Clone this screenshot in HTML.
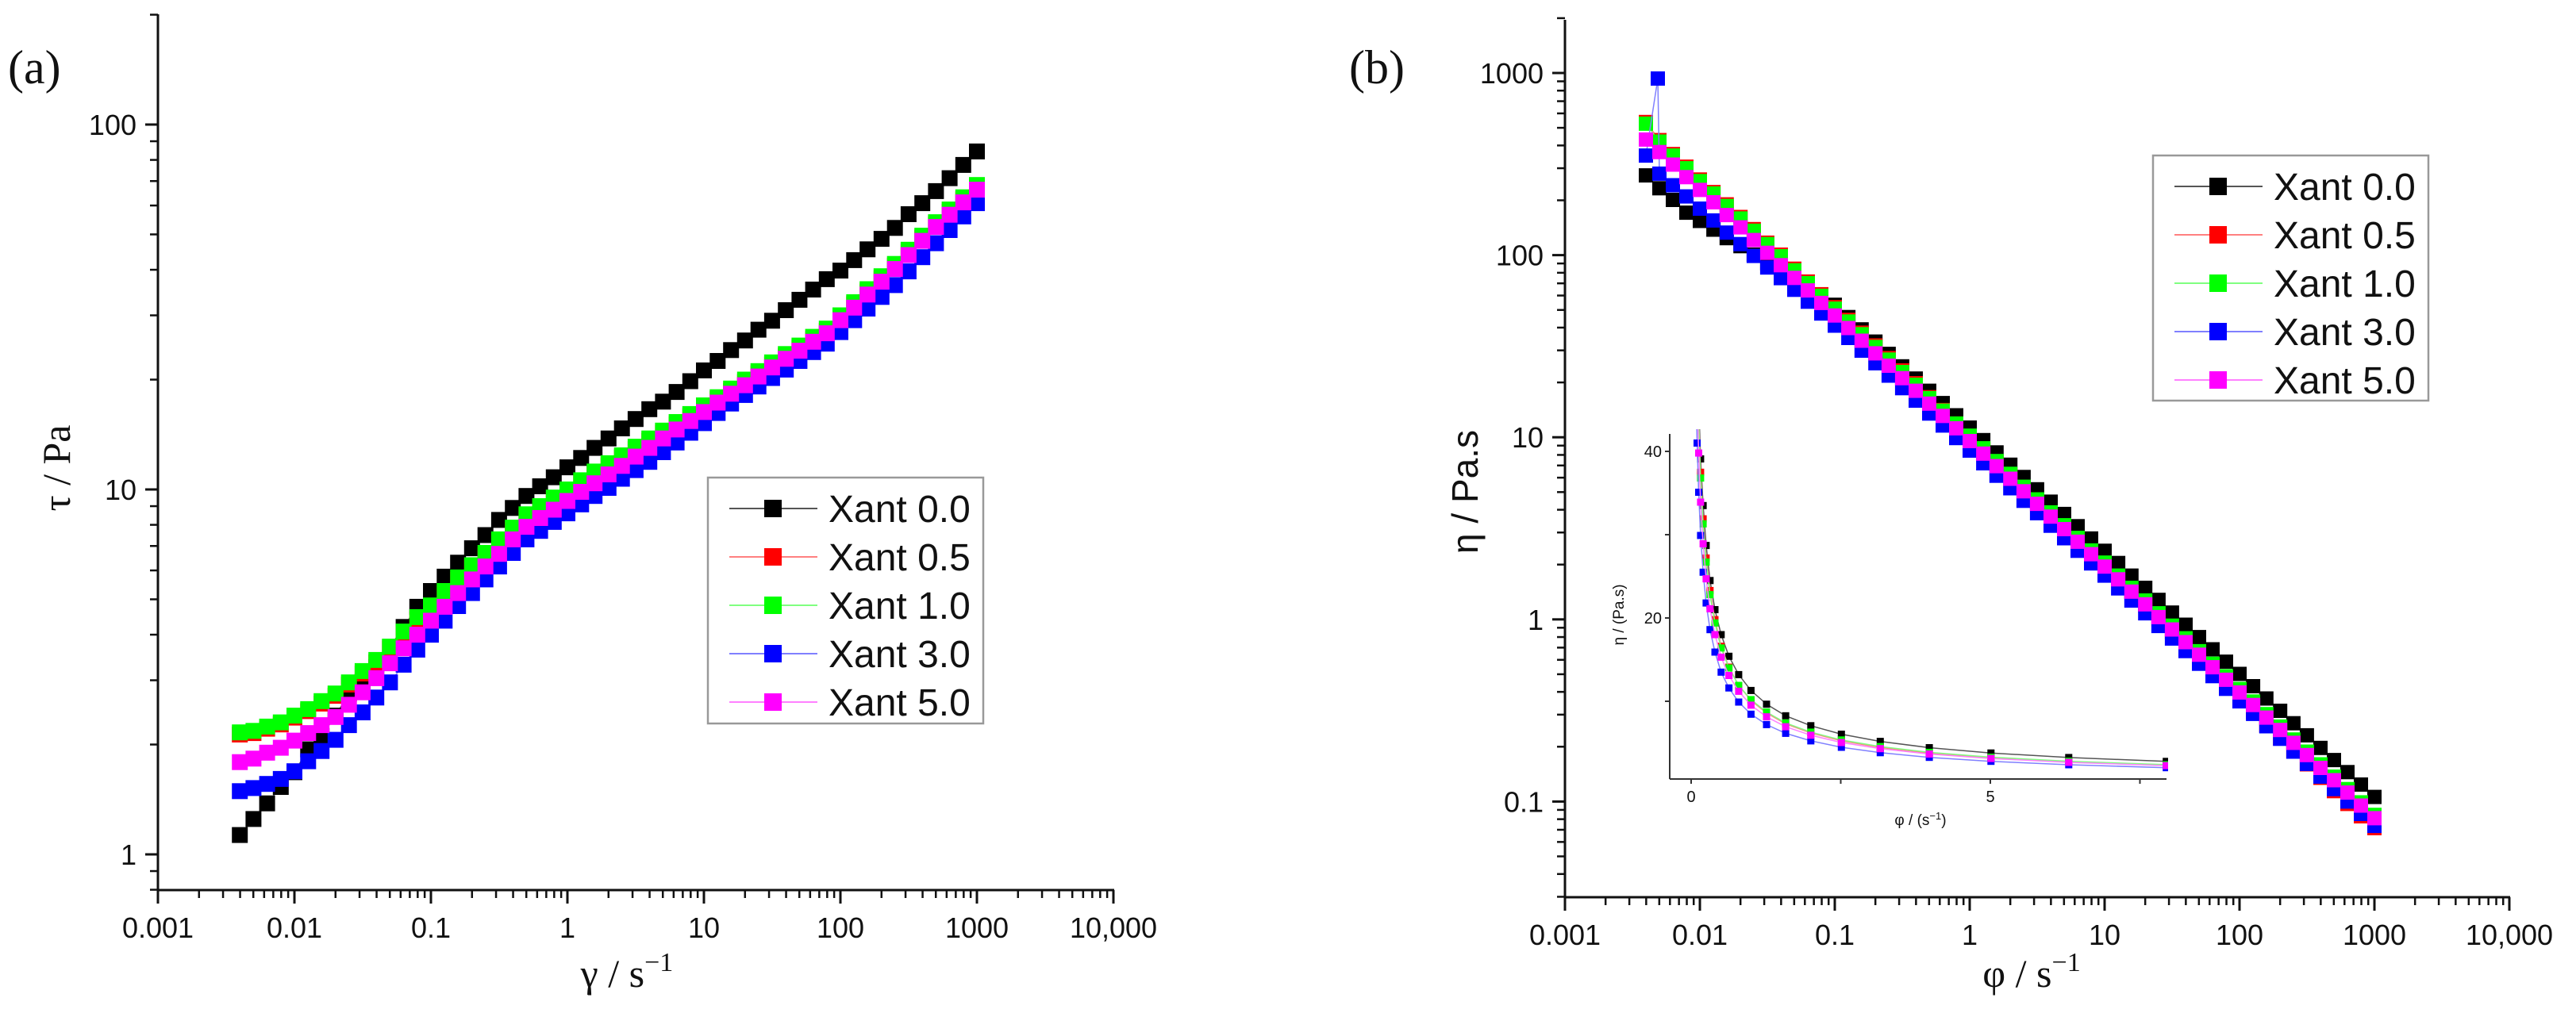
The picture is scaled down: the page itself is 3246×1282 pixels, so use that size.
<!DOCTYPE html>
<html><head><meta charset="utf-8"><style>
html,body{margin:0;padding:0;background:#fff}
svg{display:block}
.t{font-family:"Liberation Sans",Arial,sans-serif;fill:#111}
.s{font-family:"Liberation Serif","Times New Roman",serif;fill:#111}
</style></head><body>
<svg id="fig" width="3246" height="1282" viewBox="0 0 3246 1282" xmlns="http://www.w3.org/2000/svg">
<rect width="3246" height="1282" fill="#fff"/>
<g id="pa"></g>
<g id="pb"></g>
</svg>
<script>
const xGrid=[0.00398,0.00501,0.00631,0.00794,0.01,0.0126,0.0158,0.02,0.0251,0.0316,0.0398,0.0501,0.0631,0.0794,0.1,0.126,0.158,0.2,0.251,0.316,0.398,0.501,0.631,0.794,1,1.26,1.58,2,2.51,3.16,3.98,5.01,6.31,7.94,10,12.6,15.8,20,25.1,31.6,39.8,50.1,63.1,79.4,100,126,158,200,251,316,398,501,631,794,1000];
const seriesNames=["Xant 0.0","Xant 0.5","Xant 1.0","Xant 3.0","Xant 5.0"];
const xTickLabels=["0.001","0.01","0.1","1","10","100","1000","10,000"];
const aYTickLabels=["1","10","100"];
const bYTickLabels=["0.1","1","10","100","1000"];
const insetXTickLabels=["0","5"];
const insetYTickLabels=["20","40"];
// panel (a) shear stress
const aBlack=[1.13,1.25,1.38,1.53,1.68,1.94,2.11,2.4,2.76,2.98,3.26,3.7,4.2,4.77,5.27,5.77,6.3,6.9,7.5,8.25,8.9,9.6,10.2,10.8,11.5,12.2,13.0,13.8,14.7,15.6,16.6,17.4,18.5,19.8,21.2,22.5,24.1,25.6,27.4,29.0,31.0,33.1,35.3,37.7,39.8,42.5,45.5,48.6,52.1,56.8,60.9,65.7,71.3,77.5,84.4];
const aRed=[2.13,2.15,2.21,2.27,2.37,2.47,2.59,2.72,2.92,3.13,3.36,3.66,4.02,4.41,4.75,5.2,5.66,6.12,6.61,7.2,7.76,8.44,8.88,9.38,9.87,10.45,11.05,11.65,12.25,12.9,13.6,14.3,15.1,15.9,16.8,17.7,18.65,19.7,20.8,22.0,23.2,24.5,25.85,27.2,29.6,32.2,34.9,37.9,41.0,44.8,49.0,53.3,57.7,62.4,67.4];
const aGreen=[2.16,2.18,2.24,2.30,2.40,2.50,2.63,2.76,2.96,3.18,3.41,3.71,4.08,4.47,4.81,5.27,5.74,6.2,6.7,7.3,7.86,8.55,9.0,9.5,10.0,10.6,11.2,11.8,12.4,13.1,13.8,14.5,15.3,16.1,17.0,17.9,18.9,20.0,21.1,22.3,23.5,24.8,26.2,27.6,30.0,32.6,35.4,38.4,41.5,45.4,49.6,54.0,58.5,63.2,68.3];
const aBlue=[1.49,1.52,1.56,1.61,1.69,1.80,1.92,2.06,2.26,2.45,2.69,2.96,3.31,3.64,4.0,4.37,4.79,5.2,5.67,6.15,6.7,7.3,7.7,8.15,8.6,9.1,9.6,10.1,10.7,11.3,11.9,12.65,13.45,14.3,15.2,16.2,17.2,18.15,19.15,20.2,21.3,22.5,23.8,25.1,27.0,29.1,31.3,33.7,36.3,39.6,43.3,47.3,51.4,56.0,60.9];
const aPink=[1.79,1.83,1.90,1.96,2.05,2.15,2.26,2.38,2.57,2.78,3.04,3.34,3.67,4.0,4.37,4.77,5.2,5.67,6.15,6.66,7.3,7.9,8.35,8.8,9.3,9.85,10.4,11.0,11.6,12.3,13.0,13.8,14.6,15.4,16.3,17.3,18.3,19.3,20.4,21.6,22.8,24.0,25.4,26.8,29.1,31.5,34.2,37.1,40.2,43.9,48.0,52.4,56.6,61.2,66.3];
// panel (b) viscosity
const bBlack=[274,233,201,171,154,138,124,112,100.6,90.4,81.3,73.1,65.7,59.1,53.4,45.7,39.1,33.5,28.7,24.5,21.0,18.0,15.4,13.2,11.3,9.65,8.26,7.07,6.05,5.18,4.43,3.79,3.25,2.78,2.38,2.04,1.74,1.49,1.28,1.09,0.935,0.80,0.685,0.586,0.502,0.43,0.368,0.315,0.269,0.231,0.197,0.169,0.145,0.124,0.106];
const bRed=[538,428,359,306,260,222,190,162,139,117,100.6,84.2,71.6,61.0,51.8,44.1,37.5,31.9,27.2,23.3,19.8,16.6,14.1,11.9,10.1,8.6,7.3,6.2,5.25,4.45,3.78,3.2,2.71,2.3,1.96,1.66,1.41,1.2,1.0,0.85,0.71,0.6,0.51,0.43,0.365,0.31,0.262,0.222,0.188,0.16,0.135,0.114,0.097,0.083,0.0715];
const bGreen=[527,420,352,300,255,218,186,159,136,115,98.6,82.5,70.2,59.8,50.8,43.2,36.8,31.3,26.7,22.8,19.4,16.4,14.0,11.9,10.2,8.7,7.4,6.3,5.35,4.56,3.87,3.29,2.80,2.39,2.05,1.74,1.49,1.27,1.08,0.924,0.788,0.669,0.571,0.487,0.415,0.354,0.302,0.258,0.219,0.188,0.160,0.137,0.117,0.099,0.0845];
const bBlue=[352,280,242,210,180,155,133,115,99,85.5,74.8,64.5,55.5,47.8,41.0,35.1,29.9,25.5,21.8,18.6,15.9,13.5,11.6,9.9,8.45,7.2,6.15,5.25,4.48,3.83,3.27,2.79,2.38,2.03,1.74,1.48,1.27,1.08,0.92,0.785,0.67,0.571,0.488,0.416,0.355,0.303,0.259,0.221,0.188,0.161,0.137,0.117,0.1,0.0855,0.0735];
const bBlueOutlierX=[0.00488];
const bBlueOutlierY=[932];
const bPink=[431,368,314,268,228,195,166,142,121,103,88,75,64,54.6,46.6,39.8,33.9,28.9,24.7,21.1,18.0,15.3,13.1,11.2,9.53,8.13,6.94,5.92,5.05,4.31,3.67,3.13,2.67,2.28,1.95,1.66,1.42,1.21,1.03,0.88,0.75,0.64,0.546,0.466,0.397,0.339,0.289,0.247,0.210,0.180,0.153,0.131,0.112,0.095,0.081];

const NS="http://www.w3.org/2000/svg";
const colors=["#000000","#ff0000","#00ff00","#0000ff","#ff00ff"];
const lineColors=["#555555","#ff8080","#80ff80","#8080ff","#ff80ff"];
function mk(tag,attrs,parent){const e=document.createElementNS(NS,tag);for(const k in attrs)e.setAttribute(k,attrs[k]);if(parent)parent.appendChild(e);return e;}
function logScale(d0,d1,p0,p1){const l0=Math.log10(d0),l1=Math.log10(d1);return v=>p0+(Math.log10(v)-l0)/(l1-l0)*(p1-p0);}
function linScale(d0,d1,p0,p1){return v=>p0+(v-d0)/(d1-d0)*(p1-p0);}

function drawPanel(g,cfg){
  const X=logScale(0.001,10000,cfg.x0,cfg.x0+7*cfg.dec);
  const Y=logScale(cfg.yRef,cfg.yRef*10,cfg.yRefPx,cfg.yRefPx-cfg.ydec);
  const ax=mk('g',{},g);
  
  
  const xEnd=X(10000);
  const yax=mk('line',{x1:cfg.x0,y1:cfg.yBottom,x2:cfg.x0,y2:cfg.yTop,stroke:'#111','stroke-width':3},ax);
  
  
  const xax=mk('line',{x1:cfg.x0-1,y1:cfg.yBottom,x2:xEnd+1,y2:cfg.yBottom,stroke:'#111','stroke-width':3},ax);
  
  
  for(let d=0;d<=7;d++){
    const base=Math.pow(10,d-3);
    const px=X(base);
    mk('line',{x1:px,y1:cfg.yBottom,x2:px,y2:cfg.yBottom+17,stroke:'#111','stroke-width':3},ax);
    const t=mk('text',{x:px,y:cfg.yBottom+60,'text-anchor':'middle','font-size':36,class:'t'},ax);
    t.textContent=xTickLabels[d];
    
    
    if(d<7)for(let m=2;m<=9;m++){const p=X(base*m);mk('line',{x1:p,y1:cfg.yBottom,x2:p,y2:cfg.yBottom+10,stroke:'#111','stroke-width':2.5},ax);}
  }
  for(let e=cfg.eMin;e<=cfg.eMax;e++){
    const base=Math.pow(10,e);
    for(let m=1;m<=9;m++){
      const v=base*m; if(v<cfg.yMin||v>cfg.yMax)continue;
      const py=Y(v);
      mk('line',{x1:cfg.x0,y1:py,x2:cfg.x0-(m===1?16:10),y2:py,stroke:'#111','stroke-width':m===1?3:2.5},ax);
    }
  }
  cfg.yTicks.forEach((lab,i)=>{
    const py=Y(cfg.yTickVals[i]);
    const t=mk('text',{x:cfg.x0-27,y:py+13,'text-anchor':'end','font-size':36,class:'t'},ax);
    t.textContent=lab;
    
    
  });
  const sg=mk('g',{},g);
  
  
  cfg.series.forEach((s,si)=>{
    const gg=mk('g',{},sg);
    
    
    const pts=s.xs.map((x,i)=>[X(x),Y(s.ys[i])]);
    const pl=mk('polyline',{points:pts.map(p=>p[0].toFixed(1)+','+p[1].toFixed(1)).join(' '),fill:'none',stroke:lineColors[si],'stroke-width':1.5},gg);
    
    
    const ms=cfg.ms;
    pts.forEach(p=>{
      const r=mk('rect',{x:(p[0]-ms/2).toFixed(1),y:(p[1]-ms/2).toFixed(1),width:ms,height:ms,fill:colors[si]},gg);
      
      
    });
  });
  return {X,Y};
}

function drawLegend(g,lx,ty,w,h,rowY0){
  const lg=mk('g',{},g);
  
  
  mk('rect',{x:lx,y:ty,width:w,height:h,fill:'#fff',stroke:'#999','stroke-width':2.5},lg);
  seriesNames.forEach((n,i)=>{
    const cy=rowY0+i*61;
    const e=mk('g',{},lg);
    
    
    mk('line',{x1:lx+27,y1:cy,x2:lx+138,y2:cy,stroke:lineColors[i],'stroke-width':2},e);
    mk('rect',{x:lx+71,y:cy-11,width:22,height:22,fill:colors[i]},e);
    const t=mk('text',{x:lx+152,y:cy+17,'font-size':48,class:'t'},e);
    t.textContent=n;
  });
}

// ---------- Panel A ----------
const pa=document.getElementById('pa');
const aSeries=[aBlack,aRed,aGreen,aBlue,aPink].map(ys=>({xs:xGrid,ys:ys}));
drawPanel(pa,{x0:199,dec:172,yRef:10,yRefPx:617,ydec:460,yTop:18,yBottom:1122,yMin:0.8,yMax:200,eMin:-1,eMax:2,
  yTicks:aYTickLabels,yTickVals:[1,10,100],series:aSeries,ms:20});
drawLegend(pa,892,602,347,310,641);
(function(){
  let t=mk('text',{x:10,y:105,'font-size':60,class:'s'},pa);t.textContent='(a)';
  
  t=mk('text',{x:0,y:0,'font-size':50,class:'s','text-anchor':'middle',transform:'translate(88,590) rotate(-90)'},pa);
  t.textContent='τ / Pa';
  
  t=mk('text',{x:790,y:1244,'font-size':50,class:'s','text-anchor':'middle'},pa);
  t.innerHTML='γ / s<tspan dy="-20" font-size="34">−1</tspan>';
  
})();

// ---------- Panel B ----------
const pb=document.getElementById('pb');
const blueXs=[xGrid[0]].concat(bBlueOutlierX,xGrid.slice(1));
const blueYs=[bBlue[0]].concat(bBlueOutlierY,bBlue.slice(1));
const bSeries=[{xs:xGrid,ys:bBlack},{xs:xGrid,ys:bRed},{xs:xGrid,ys:bGreen},{xs:blueXs,ys:blueYs},{xs:xGrid,ys:bPink}];
drawPanel(pb,{x0:1972,dec:170,yRef:100,yRefPx:321.6,ydec:229.6,yTop:25,yBottom:1131,yMin:0.03,yMax:2000,eMin:-2,eMax:3,
  yTicks:bYTickLabels,yTickVals:[0.1,1,10,100,1000],series:bSeries,ms:18});
drawLegend(pb,2713,196,347,309,235);
(function(){
  let t=mk('text',{x:1700,y:105,'font-size':60,class:'s'},pb);t.textContent='(b)';
  
  t=mk('text',{x:0,y:0,'font-size':46,class:'t','text-anchor':'middle',transform:'translate(1862,620) rotate(-90)'},pb);
  t.textContent='η / Pa.s';
  
  t=mk('text',{x:2560,y:1244,'font-size':50,class:'s','text-anchor':'middle'},pb);
  t.innerHTML='φ / s<tspan dy="-20" font-size="34">−1</tspan>';
  
})();

// ---------- Inset ----------
(function(){
  const ig=mk('g',{},pb);
  
  
  const IX=linScale(0,5,2131,2508);
  const IY=linScale(20,40,779,569);
  const left=2104,right=2730,top=547,bottom=982;
  const defs=mk('defs',{},ig);
  const cp=mk('clipPath',{id:'insetClip'},defs);
  mk('rect',{x:left+2,y:top-6,width:right-left,height:bottom-top+4},cp);
  const dg=mk('g',{'clip-path':'url(#insetClip)'},ig);
  [bBlack,bRed,bGreen,bBlue,bPink].forEach((ys,si)=>{
    const sg=mk('g',{},dg);
    
    
    const pts=[];
    xGrid.forEach((x,i)=>{if(x<=8.5&&ys[i]<=60)pts.push([IX(x),IY(ys[i])]);});
    mk('polyline',{points:pts.map(p=>p[0].toFixed(1)+','+p[1].toFixed(1)).join(' '),fill:'none',stroke:lineColors[si],'stroke-width':1.5},sg);
    pts.forEach(p=>{
      const r=mk('rect',{x:(p[0]-4.5).toFixed(1),y:(p[1]-4.5).toFixed(1),width:9,height:9,fill:colors[si]},sg);
      
      
    });
  });
  mk('line',{x1:left,y1:top,x2:left,y2:bottom,stroke:'#333','stroke-width':2},ig);
  mk('line',{x1:left,y1:bottom,x2:right,y2:bottom,stroke:'#333','stroke-width':2},ig);
  [0,2.5,5,7.5].forEach(v=>{mk('line',{x1:IX(v),y1:bottom,x2:IX(v),y2:bottom+6,stroke:'#333','stroke-width':2},ig);});
  [10,20,30,40].forEach(v=>{mk('line',{x1:left,y1:IY(v),x2:left-6,y2:IY(v),stroke:'#333','stroke-width':2},ig);});
  insetXTickLabels.forEach((lab,i)=>{
    const t=mk('text',{x:IX([0,5][i]),y:bottom+29,'text-anchor':'middle','font-size':20,class:'t',fill:'#444'},ig);
    t.textContent=lab;
  });
  insetYTickLabels.forEach((lab,i)=>{
    const t=mk('text',{x:left-10,y:IY([20,40][i])+7,'text-anchor':'end','font-size':20,class:'t',fill:'#444'},ig);
    t.textContent=lab;
  });
  let t=mk('text',{x:0,y:0,'font-size':19,class:'t','text-anchor':'middle',transform:'translate(2046,775) rotate(-90)'},ig);
  t.textContent='η / (Pa.s)';
  
  t=mk('text',{x:2420,y:1040,'font-size':19,class:'t','text-anchor':'middle'},ig);
  t.innerHTML='φ / (s<tspan dy="-7" font-size="13">−1</tspan><tspan dy="7">)</tspan>';
  
})();
</script>
</body></html>
